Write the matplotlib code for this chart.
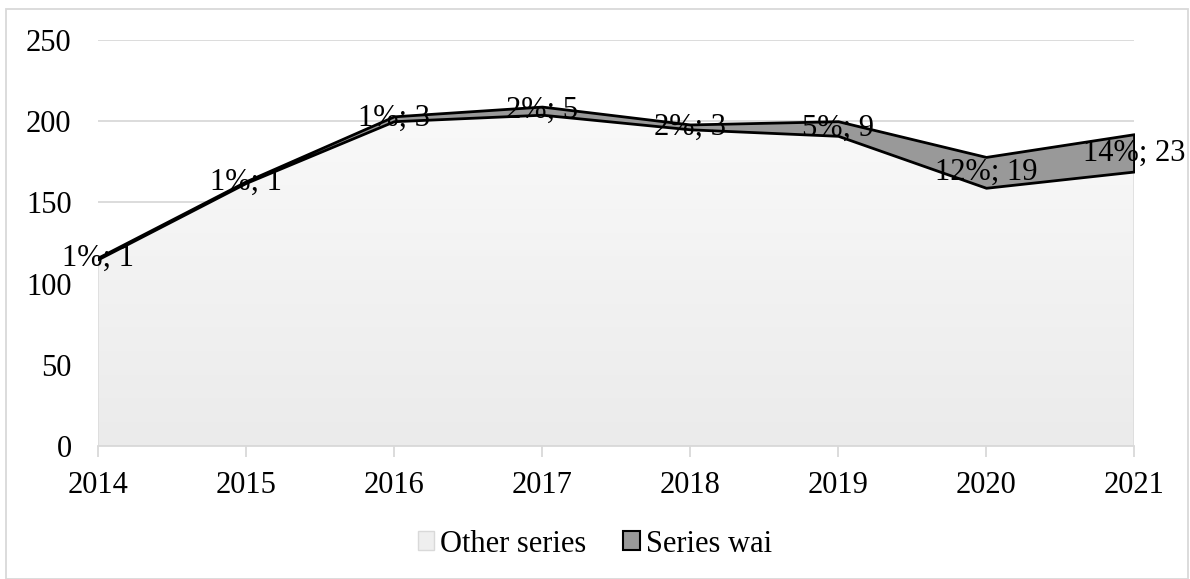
import numpy as np
import matplotlib
matplotlib.use('agg')
from matplotlib import pyplot as plt
from matplotlib.patches import Rectangle, Patch

# data
years = [2014, 2015, 2016, 2017, 2018, 2019, 2020, 2021]
other_series = [115, 162, 200, 204, 195, 191, 159, 169]
series_wai = [1, 1, 3, 5, 3, 9, 19, 23]
wai_labels = ['1%; 1', '1%; 1', '1%; 3', '2%; 5', '2%; 3', '5%; 9', '12%; 19', '14%; 23']
y_ticks = [0, 50, 100, 150, 200, 250]

plt.rcParams['font.family'] = ['Liberation Serif', 'DejaVu Serif']

fig = plt.figure(figsize=(11.9, 5.79), dpi=100)
ax = fig.add_axes([98 / 1190, 1 - 446 / 579, (1134 - 98) / 1190, (446 - 40) / 579])

x = np.arange(len(years))
other = np.array(other_series, dtype=float)
wai = np.array(series_wai, dtype=float)
total = other + wai

# other series: light gradient fill
poly = ax.fill_between(x, 0, other, facecolor='none', edgecolor='#d9d9d9', linewidth=1, zorder=2)
grad = np.linspace(0, 1, 256).reshape(-1, 1)
img = ax.imshow(grad, cmap=matplotlib.colors.LinearSegmentedColormap.from_list('g', ['#ebebeb', '#f9f9f9']),
                extent=[x[0], x[-1], 0, other.max()], origin='lower', aspect='auto', zorder=1)
img.set_clip_path(poly.get_paths()[0], transform=ax.transData)

# series wai on top
ax.fill_between(x, other, total, facecolor='#999999', edgecolor='black', linewidth=2, zorder=3)

for xi, lo, w, lab in zip(x, other, wai, wai_labels):
    ax.text(xi, lo + w / 2, lab, ha='center', va='center', fontsize=22, zorder=4)

ax.set_xlim(x[0], x[-1])
ax.set_ylim(0, 250)
ax.set_yticks(y_ticks)
ax.set_xticks(x)
ax.set_xticklabels([str(y) for y in years])
ax.yaxis.grid(True, color='#d9d9d9', linewidth=1.3)
ax.set_axisbelow(True)
for s in ['top', 'right', 'left']:
    ax.spines[s].set_visible(False)
ax.spines['bottom'].set_color('#d9d9d9')
ax.spines['bottom'].set_linewidth(1.3)
ax.tick_params(axis='y', length=0, labelsize=22, pad=19)
ax.tick_params(axis='x', length=8, color='#d9d9d9', width=1.3, labelsize=22, pad=10)

handles = [Patch(facecolor='#efefef', edgecolor='#d9d9d9', label='Other series'),
           Patch(facecolor='#999999', edgecolor='black', linewidth=1.5, label='Series wai')]
fig.legend(handles=handles, loc='center', bbox_to_anchor=(0.5, 1 - 544 / 579), ncol=2,
           frameon=False, fontsize=22, handlelength=0.55, handleheight=0.55,
           handletextpad=0.2, columnspacing=1.2)

fig.patches.append(Rectangle((6 / 1190, 1 - 579 / 579), 1182 / 1190, (579 - 9) / 579,
                             transform=fig.transFigure, fill=False, edgecolor='#d9d9d9', linewidth=1.3))

plt.savefig('out.png', dpi=100)
